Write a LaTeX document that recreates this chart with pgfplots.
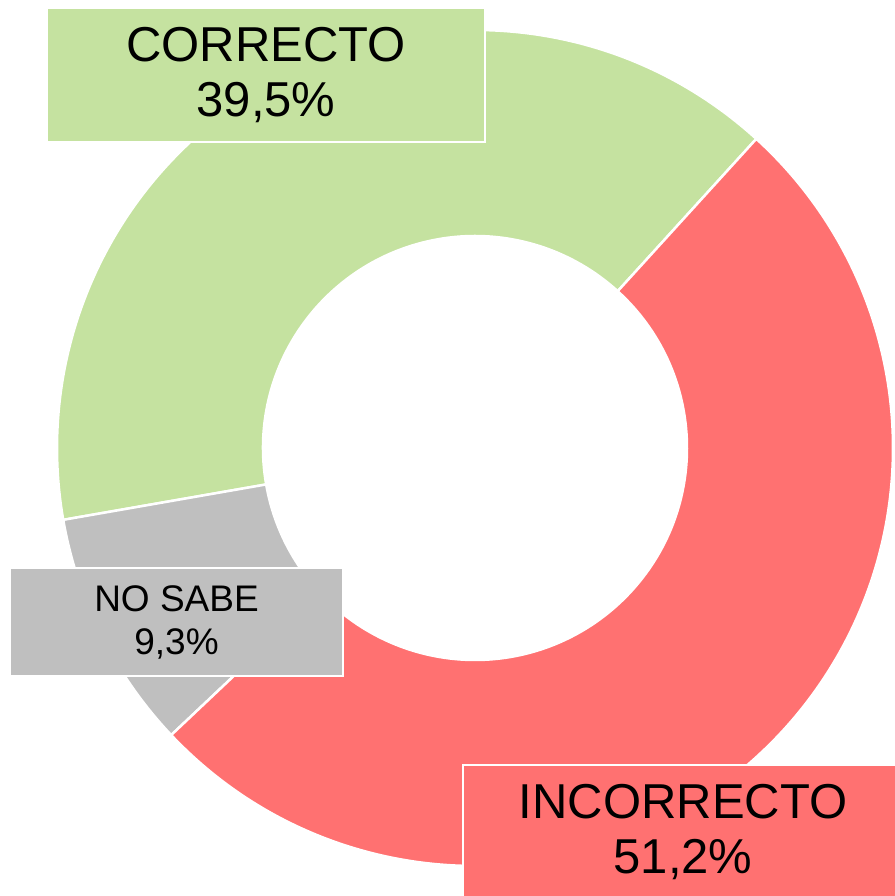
\documentclass[border=0pt]{standalone}
\usepackage{pgfplots}
\usepackage{pgfplotstable}
\pgfplotsset{compat=1.18}
\usepackage{fontspec}
\setmainfont{Liberation Sans}

\definecolor{verde}{RGB}{197,226,160}
\definecolor{rojo}{RGB}{255,113,113}
\definecolor{gris}{RGB}{191,191,191}

% share of answers, counter-clockwise from the first cut
\pgfplotstableread{
label       pct   color
CORRECTO    39.5  verde
{NO SABE}   9.3   gris
INCORRECTO  51.2  rojo
}\donut

\begin{document}
\begin{tikzpicture}
\begin{axis}[
    width=895bp, height=896bp, scale only axis,
    xmin=0, xmax=895, ymin=0, ymax=896,
    hide axis, clip=false,
]
\coordinate (sw) at (axis cs:0,0);
\coordinate (ne) at (axis cs:895,896);

% ring: centre (475,448), outer radius 418, inner radius 212
\def\angA{47.7}
\pgfplotsforeachungrouped \i in {0,1,2}{%
    \pgfplotstablegetelem{\i}{pct}\of\donut
    \pgfmathsetmacro\angB{\angA+3.6*\pgfplotsretval}%
    \pgfplotstablegetelem{\i}{color}\of\donut
    \edef\wedge{\noexpand\filldraw[fill=\pgfplotsretval, draw=white, line width=2.5bp]
        ([shift={(\angA:418bp)}]axis cs:475,448)
        arc[start angle=\angA, end angle=\angB, radius=418bp]
        -- ([shift={(\angB:212bp)}]axis cs:475,448)
        arc[start angle=\angB, end angle=\angA, radius=212bp] -- cycle;}%
    \wedge
    \let\angA\angB
}

\node[fill=verde, draw=white, line width=1.2bp, minimum width=438bp, minimum height=134bp,
    inner sep=0pt, align=center, font=\fontsize{49bp}{55bp}\selectfont]
    at (axis cs:266,821) {CORRECTO\\39,5\%};
\node[fill=gris, draw=white, line width=1.2bp, minimum width=333bp, minimum height=108bp,
    inner sep=0pt, align=center, font=\fontsize{37bp}{43bp}\selectfont]
    at (axis cs:176.5,274) {NO SABE\\9,3\%};
\node[fill=rojo, draw=white, line width=1.2bp, minimum width=440bp, minimum height=134bp,
    inner sep=0pt, align=center, font=\fontsize{49bp}{55bp}\selectfont]
    at (axis cs:683,64) {INCORRECTO\\51,2\%};
\end{axis}
\pgfresetboundingbox
\path (sw) rectangle (ne);
\end{tikzpicture}
\end{document}
